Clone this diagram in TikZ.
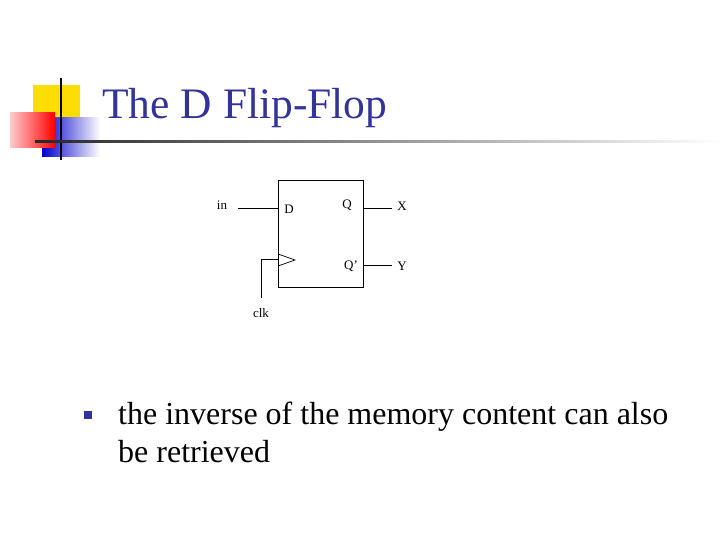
\documentclass[tikz,border=0pt]{standalone}
\usepackage{fontspec}
\setmainfont{Liberation Serif}
\begin{document}
\begin{tikzpicture}[x=1pt,y=-1pt,
  lbl/.style={font=\fontsize{13}{15}\selectfont,inner sep=0pt},
  wire/.style={line width=0.7pt}]
\useasboundingbox (0,0) rectangle (720,540);
\definecolor{ttl}{RGB}{51,51,153}
% logo
\fill[yellow!80!orange] (33,85) rectangle (80,130);
\shade[left color=blue!80!black,right color=white] (42,118) rectangle (100,157);
\shade[left color=red!20,right color=red] (10,113) rectangle (55,148);
\draw[line width=2pt] (61,78) -- (61,160);
\shade[left color=black!85,right color=white] (35,140.5) rectangle (720,143);
\node[anchor=west,text=ttl,font=\fontsize{43.5}{48}\selectfont,inner sep=0pt] (title) at (102,108) {The D Flip-Flop};
% flip-flop
\draw[wire] (278,180) rectangle (363,287);
\node[lbl] (D) at (289,209) {D};
\node[lbl] (Q) at (347,205) {Q};
\node[lbl] (Qn) at (351,266) {Q’};
\node[lbl] (in) at (222,205) {in};
\node[lbl] (X) at (402,206) {X};
\node[lbl] (Y) at (402,266) {Y};
\node[lbl] (clk) at (261,313) {clk};
\coordinate (dL) at (238,208); \coordinate (dR) at (278,208);
\draw[wire] (dL) -- (dR);
\coordinate (qa) at (363,208); \coordinate (qb) at (392,208);
\draw[wire] (qa) -- (qb);
\coordinate (qc) at (363,265); \coordinate (qd) at (392,265);
\draw[wire] (qc) -- (qd);
\draw[wire] (278,254) -- (295,260) -- (278,266);
\coordinate (ck1) at (278,259); \coordinate (ck2) at (261,259); \coordinate (ck3) at (261,298);
\draw[wire] (ck1) -- (ck2) -- (ck3);
% bullet
\fill[ttl] (84,411) rectangle (92,419);
\node[anchor=north west,align=left,font=\fontsize{32}{38}\selectfont,inner sep=0pt] (body) at (118,402) {the inverse of the memory content can also\\be retrieved};
\end{tikzpicture}
\end{document}
